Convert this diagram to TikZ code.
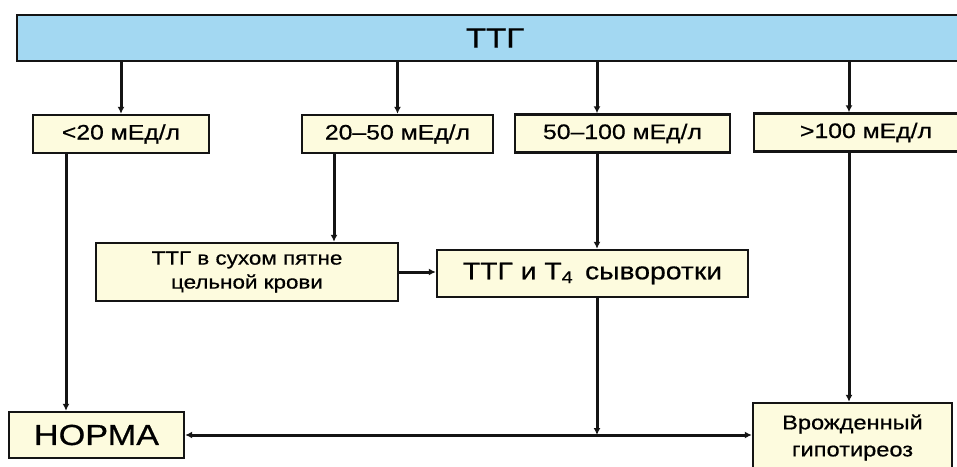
\documentclass[tikz,border=0pt]{standalone}
\usepackage{fontspec}
\setmainfont{Liberation Sans}[FakeStretch=1.18, FakeBold=0.6]
\usepackage{tikz}
\usetikzlibrary{arrows.meta, positioning, calc}
\definecolor{barblue}{RGB}{163,216,242}
\definecolor{boxcream}{RGB}{253,251,222}
\definecolor{mydark}{RGB}{20,20,20}
\tikzset{
  topbar/.style={rectangle, draw=mydark, fill=barblue, line width=2.4pt,
    minimum width=956pt, minimum height=46pt, inner sep=0pt,
    font=\fontsize{28}{32}\selectfont},
  rangebox/.style={rectangle, draw=mydark, fill=boxcream, line width=2.4pt,
    minimum height=38pt, inner sep=0pt, font=\fontsize{21}{25}\selectfont},
  stepbox/.style={rectangle, draw=mydark, fill=boxcream, line width=2.4pt,
    inner sep=0pt, align=center},
  arrow/.style={-{Latex[length=7pt,width=7pt]}, line width=3pt, color=mydark},
  biarrow/.style={{Latex[length=7pt,width=7pt]}-{Latex[length=7pt,width=7pt]},
    line width=3pt, color=mydark}
}
\begin{document}
\begin{tikzpicture}[x=1pt, y=-1pt]
  \useasboundingbox (0,0) rectangle (957,466);

  % Top bar
  \node[topbar] (ttg) at (495,38) {ТТГ};

  % Ranges
  \node[rangebox, minimum width=176pt] (low) at (121,134) {<20 мЕд/л};
  \node[rangebox, minimum width=191pt] (mid) at (397.5,134) {20–50 мЕд/л};
  \node[rangebox, minimum width=215pt] (high) at (622.5,133.5) {50–100 мЕд/л};
  \node[rangebox, minimum width=224pt] (vhigh) at (866,132.5) {>100 мЕд/л};

  % Follow-up tests
  \node[stepbox, minimum width=302pt, minimum height=58pt,
    font=\fontsize{19}{24}\selectfont] (dryspot) at (247,272)
    {ТТГ в сухом пятне\\цельной крови};
  \node[stepbox, minimum width=311pt, minimum height=47pt,
    font=\fontsize{24}{28}\selectfont] (serum) at (592.5,273.5)
    {ТТГ и Т\textsubscript{4}\, сыворотки};

  % Outcomes
  \node[stepbox, minimum width=175pt, minimum height=46pt,
    font=\fontsize{29}{33}\selectfont] (norma) at (96.5,435) {НОРМА};
  \node[stepbox, minimum width=199pt, minimum height=69pt,
    font=\fontsize{20}{27}\selectfont] (hypo) at (852.5,437.5)
    {Врожденный\\гипотиреоз};

  % Entry points off centre
  \coordinate (hightop) at ([xshift=-25.5pt]high.north);
  \coordinate (vhightop) at ([xshift=-17pt]vhigh.north);
  \coordinate (lowout) at ([xshift=-55pt]low.south);
  \coordinate (midout) at ([xshift=-63.5pt]mid.south);

  % Bar to ranges
  \draw[arrow] (ttg.south -| low.north) -- (low.north);
  \draw[arrow] (ttg.south -| mid.north) -- (mid.north);
  \draw[arrow] (ttg.south -| hightop) -- (hightop);
  \draw[arrow] (ttg.south -| vhightop) -- (vhightop);

  % Ranges to tests and outcomes
  \draw[arrow] (lowout) -- (lowout |- norma.north);
  \draw[arrow] (midout) -- (midout |- dryspot.north);
  \draw[arrow] (hightop |- high.south) -- (hightop |- serum.north);
  \draw[arrow] (vhightop |- vhigh.south) -- (vhightop |- hypo.north);
  \draw[arrow] (dryspot.east) -- (dryspot.east -| serum.west);

  % Serum result
  \draw[biarrow] (norma.east) -- (norma.east -| hypo.west);
  \draw[arrow] (hightop |- serum.south) -- (hightop |- norma.east);
\end{tikzpicture}
\end{document}
